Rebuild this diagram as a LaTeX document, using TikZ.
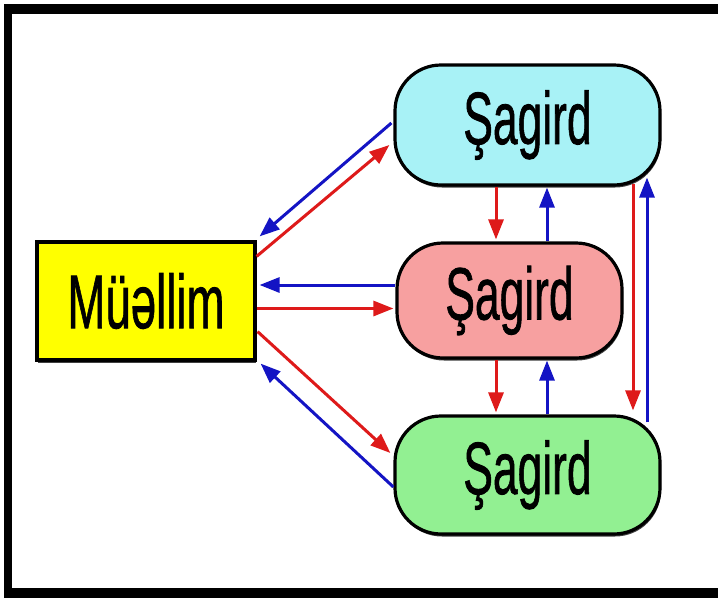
\documentclass[tikz,border=0pt]{standalone}
\usepackage{fontspec}
\setmainfont{Liberation Sans}
\newfontfamily\labelfont[FakeBold=1.2]{Liberation Sans}
\usepackage{graphicx}
\usetikzlibrary{arrows.meta,calc,shadows}

\definecolor{teacherfill}{RGB}{255,255,0}
\definecolor{topfill}{RGB}{168,242,246}
\definecolor{midfill}{RGB}{247,160,160}
\definecolor{lowfill}{RGB}{146,240,146}
\definecolor{arrred}{RGB}{222,26,26}
\definecolor{arrblue}{RGB}{20,20,196}

% condensed label text
\newcommand\boxlabel[2]{\scalebox{0.6}[1]{\labelfont\fontsize{#1}{#1}\selectfont #2}}

\begin{document}
\begin{tikzpicture}[x=1pt,y=-1pt,
  box/.style={draw=black, line width=3.2pt, inner sep=0pt,
    drop shadow={shadow xshift=1pt, shadow yshift=-2.5pt, fill=black!75, opacity=1}},
  pill/.style={box, rounded corners=46pt},
  redarrow/.style={draw=arrred, line width=3pt,
    -{Triangle[length=20pt,width=15pt]}},
  bluearrow/.style={draw=arrblue, line width=3pt,
    -{Triangle[length=20pt,width=15pt]}}]

\useasboundingbox (0,0) rectangle (718,598);
\fill[white] (0,0) rectangle (718,598);

% outer frame
\fill[black] (4,4) rectangle (718,14);
\fill[black] (4,4) rectangle (12,598);
\fill[black] (4,588) rectangle (718,598);

% teacher and pupils
\node[box, fill=teacherfill, minimum width=218pt, minimum height=118pt]
  (mu) at (146,301) {\boxlabel{76}{Müəllim}};
\node[pill, fill=topfill, minimum width=265pt, minimum height=120pt]
  (s1) at (527.5,125) {\boxlabel{74}{Şagird}};
\node[pill, fill=midfill, minimum width=225pt, minimum height=115pt]
  (s2) at (509.5,300.5) {\boxlabel{74}{Şagird}};
\node[pill, fill=lowfill, minimum width=265pt, minimum height=118pt]
  (s3) at (527.5,475) {\boxlabel{74}{Şagird}};

% column positions of the vertical links
\coordinate (cdown) at (496,0);
\coordinate (cup) at (547,0);
\coordinate (rdown) at (633,0);
\coordinate (rup) at (647,0);

% teacher <-> pupils
\draw[bluearrow] ($(s1.west)+(-2,-2)$) -- ($(mu.north east)+(3,-4)$);
\draw[redarrow] ($(mu.north east)+(0,16)$) -- ($(s1.west)+(-4,20)$);
\draw[bluearrow] ($(s2.west)+(0,-15.5)$) -- ($(mu.east)+(3,-16)$);
\draw[redarrow] ($(mu.east)+(0,7.5)$) -- ($(s2.west)+(-2,8)$);
\draw[redarrow] ($(mu.south east)+(1,-30)$) -- ($(s3.west)+(-3,-22)$);
\draw[bluearrow] ($(s3.west)+(0,12)$) -- ($(mu.south east)+(4,2)$);

% pupil <-> pupil
\draw[redarrow] (s1.south -| cdown) -- ($(s2.north -| cdown)+(0,-2)$);
\draw[bluearrow] (s2.north -| cup) -- ($(s1.south -| cup)+(0,1)$);
\draw[redarrow] (s2.south -| cdown) -- ($(s3.north -| cdown)+(0,-2)$);
\draw[bluearrow] (s3.north -| cup) -- ($(s2.south -| cup)+(0,1)$);
\draw[redarrow] ($(s1.south -| rdown)+(0,-3)$) -- ($(s3.north -| rdown)+(0,-4)$);
\draw[bluearrow] ($(s3.north -| rup)+(0,8)$) -- ($(s1.south -| rup)+(0,-9)$);
\end{tikzpicture}
\end{document}
